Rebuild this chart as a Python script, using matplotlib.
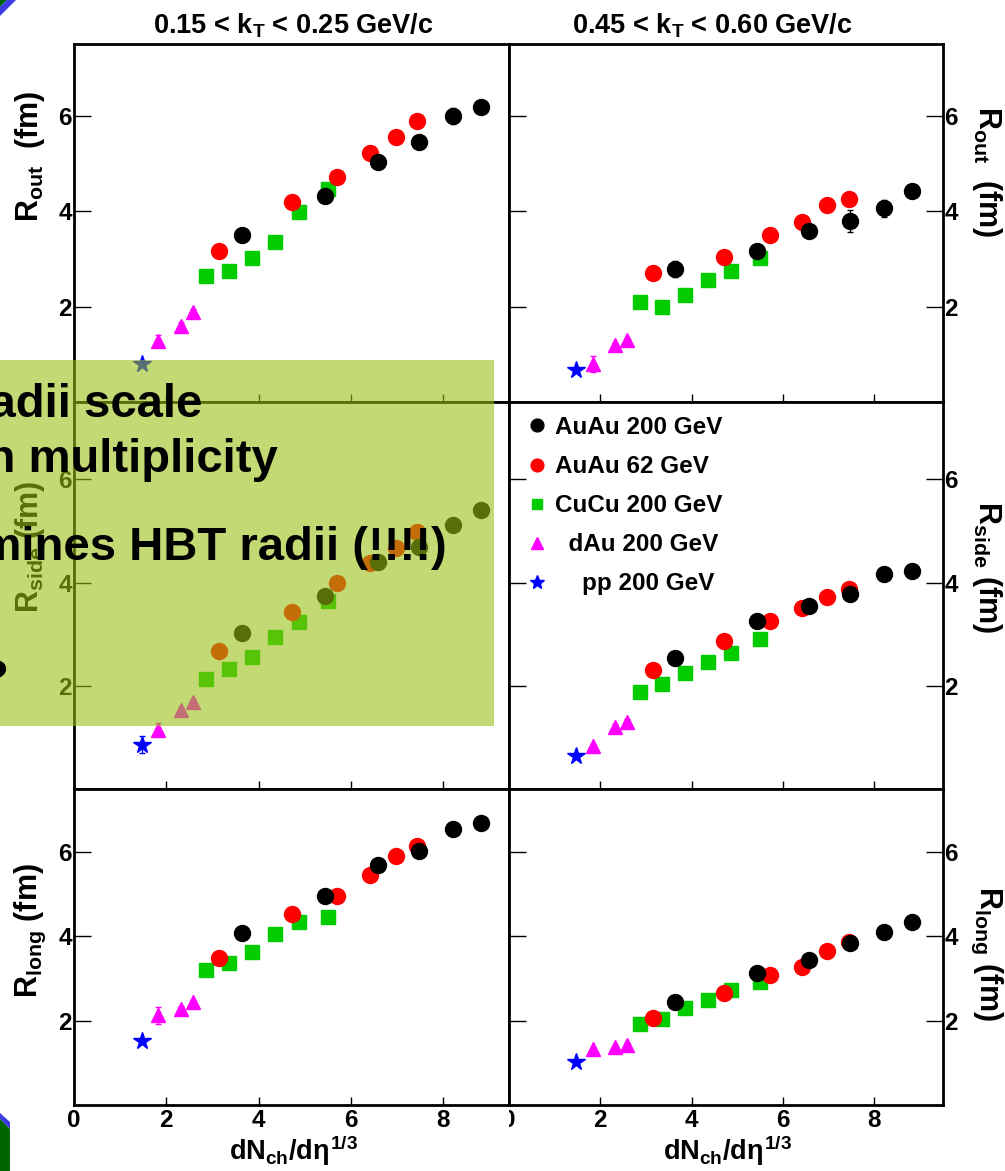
import matplotlib
matplotlib.use('Agg')
import matplotlib.pyplot as plt
from matplotlib.patches import Rectangle, Polygon
from matplotlib.lines import Line2D
from matplotlib.transforms import Bbox, TransformedBbox

W, H = 1005, 1171

# dN_ch/deta^(1/3) of each centrality bin
x_auau200 = [3.64, 5.44, 6.58, 7.48, 8.21, 8.82]
x_auau62 = [3.15, 4.72, 5.71, 6.42, 6.97, 7.44]
x_cucu200 = [2.86, 3.36, 3.86, 4.36, 4.87, 5.50]
x_dau200 = [1.83, 2.33, 2.58]
x_pp200 = [1.47]

systems = ['AuAu 200 GeV', 'AuAu 62 GeV', 'CuCu 200 GeV', 'dAu 200 GeV', 'pp 200 GeV']
legend_labels = ['AuAu 200 GeV', 'AuAu 62 GeV', 'CuCu 200 GeV', '  dAu 200 GeV', '    pp 200 GeV']

# radii (fm) per system
rout_k1 = {
    'AuAu 200 GeV': [3.49, 4.31, 5.03, 5.44, 5.99, 6.18],
    'AuAu 62 GeV': [3.17, 4.19, 4.72, 5.21, 5.56, 5.89],
    'CuCu 200 GeV': [2.65, 2.74, 3.02, 3.35, 3.97, 4.46],
    'dAu 200 GeV': [1.28, 1.60, 1.89],
    'pp 200 GeV': [0.80],
}
rout_k2 = {
    'AuAu 200 GeV': [2.78, 3.16, 3.58, 3.80, 4.06, 4.41],
    'AuAu 62 GeV': [2.70, 3.04, 3.49, 3.77, 4.12, 4.25],
    'CuCu 200 GeV': [2.10, 1.98, 2.24, 2.55, 2.74, 3.02],
    'dAu 200 GeV': [0.80, 1.19, 1.30],
    'pp 200 GeV': [0.68],
}
rside_k1 = {
    'AuAu 200 GeV': [3.02, 3.75, 4.40, 4.69, 5.11, 5.40],
    'AuAu 62 GeV': [2.67, 3.43, 3.99, 4.38, 4.67, 4.99],
    'CuCu 200 GeV': [2.14, 2.32, 2.56, 2.95, 3.24, 3.64],
    'dAu 200 GeV': [1.15, 1.54, 1.69],
    'pp 200 GeV': [0.86],
}
rside_k2 = {
    'AuAu 200 GeV': [2.53, 3.26, 3.55, 3.77, 4.17, 4.22],
    'AuAu 62 GeV': [2.31, 2.87, 3.26, 3.50, 3.72, 3.87],
    'CuCu 200 GeV': [1.88, 2.03, 2.24, 2.46, 2.64, 2.91],
    'dAu 200 GeV': [0.83, 1.21, 1.30],
    'pp 200 GeV': [0.64],
}
rlong_k1 = {
    'AuAu 200 GeV': [4.09, 4.95, 5.69, 6.04, 6.55, 6.69],
    'AuAu 62 GeV': [3.49, 4.53, 4.97, 5.46, 5.91, 6.14],
    'CuCu 200 GeV': [3.21, 3.38, 3.63, 4.06, 4.35, 4.46],
    'dAu 200 GeV': [2.13, 2.29, 2.45],
    'pp 200 GeV': [1.52],
}
rlong_k2 = {
    'AuAu 200 GeV': [2.45, 3.13, 3.45, 3.84, 4.11, 4.34],
    'AuAu 62 GeV': [2.06, 2.67, 3.08, 3.27, 3.66, 3.88],
    'CuCu 200 GeV': [1.92, 2.04, 2.31, 2.49, 2.74, 2.92],
    'dAu 200 GeV': [1.32, 1.38, 1.43],
    'pp 200 GeV': [1.02],
}

# the few error bars that stick out of the markers
err_big = {
    ('rout_k1', 'AuAu 200 GeV'): [0.06, 0.08, 0.06, 0.06, 0.16, 0.13],
    ('rout_k1', 'dAu 200 GeV'): [0.12, 0.08, 0.05],
    ('rout_k2', 'AuAu 200 GeV'): [0.17, 0.08, 0.06, 0.23, 0.18, 0.08],
    ('rout_k2', 'dAu 200 GeV'): [0.17, 0.05, 0.05],
    ('rside_k1', 'dAu 200 GeV'): [0.12, 0.05, 0.05],
    ('rside_k1', 'pp 200 GeV'): [0.17],
    ('rlong_k1', 'dAu 200 GeV'): [0.2, 0.05, 0.05],
}

x_by_system = dict(zip(systems, [x_auau200, x_auau62, x_cucu200, x_dau200, x_pp200]))
styles = {
    'AuAu 200 GeV': dict(marker='o', color='black', ms=11.5),
    'AuAu 62 GeV': dict(marker='o', color='#ff0000', ms=11.5),
    'CuCu 200 GeV': dict(marker='s', color='#00cc00', ms=9.5),
    'dAu 200 GeV': dict(marker='^', color='#ff00ff', ms=10),
    'pp 200 GeV': dict(marker='*', color='#0000ff', ms=13),
}
draw_order = ['CuCu 200 GeV', 'dAu 200 GeV', 'pp 200 GeV', 'AuAu 62 GeV', 'AuAu 200 GeV']

plt.rcParams['font.family'] = 'Liberation Sans'
plt.rcParams['font.weight'] = 'bold'
plt.rcParams['mathtext.fontset'] = 'custom'
plt.rcParams['mathtext.rm'] = 'Liberation Sans:bold'
plt.rcParams['mathtext.it'] = 'Liberation Sans:bold'
plt.rcParams['mathtext.bf'] = 'Liberation Sans:bold'


def fx(px):
    return px / W


def fy(py):
    return 1 - py / H


fig = plt.figure(figsize=(W / 100, H / 100), dpi=100)
fig.patch.set_facecolor('white')

col_edges = [74, 509, 943]
row_edges = [44, 402, 789, 1105]
xmax = [9.43, 9.51]

panels = [
    ('rout_k1', rout_k1, 0, 0), ('rout_k2', rout_k2, 0, 1),
    ('rside_k1', rside_k1, 1, 0), ('rside_k2', rside_k2, 1, 1),
    ('rlong_k1', rlong_k1, 2, 0), ('rlong_k2', rlong_k2, 2, 1),
]

axes = {}
for key, data, r, c in panels:
    x0, x1 = col_edges[c], col_edges[c + 1]
    y0, y1 = row_edges[r], row_edges[r + 1]
    ax = fig.add_axes([fx(x0), fy(y1), fx(x1) - fx(x0), (y1 - y0) / H])
    axes[(r, c)] = ax
    for name in draw_order:
        st = styles[name]
        ys = data[name]
        err = err_big.get((key, name), [0.05] * len(ys))
        ax.errorbar(x_by_system[name], ys, yerr=err, fmt=st['marker'],
                    color=st['color'], ms=st['ms'], mec=st['color'],
                    elinewidth=1, capsize=2.5, capthick=1, ls='none')
    ax.set_xlim(0, xmax[c])
    ax.set_ylim(0, 7.5)
    ax.set_xticks([0, 2, 4, 6, 8])
    ax.set_yticks([2, 4, 6])
    for sp in ax.spines.values():
        sp.set_linewidth(2)
    ax.tick_params(axis='x', direction='in', length=6, width=1, top=False,
                   bottom=True, labelbottom=(r == 2), labelsize=17.5, pad=3)
    if c == 0:
        ax.tick_params(axis='y', direction='in', length=12, width=1,
                       left=True, right=False, labelleft=True,
                       labelright=False, labelsize=17.5, pad=1.5)
    else:
        ax.tick_params(axis='y', direction='in', length=12, width=1,
                       left=True, right=True, labelleft=False,
                       labelright=True, labelsize=17.5, pad=1.0)

# half-hidden "0" under the shared edge of the bottom-right panel
lab0 = axes[(2, 1)].xaxis.get_major_ticks()[0].label1
lab0.set_clip_box(TransformedBbox(Bbox.from_extents(fx(509), 0, 1, 1), fig.transFigure))
lab0.set_clip_on(True)

# titles and axis labels
fig.text(fx(293), fy(26), r'0.15 < k$_{T}$ < 0.25 GeV/c', ha='center', va='center', fontsize=19.5)
fig.text(fx(712), fy(26), r'0.45 < k$_{T}$ < 0.60 GeV/c', ha='center', va='center', fontsize=19.5)

ylabels = [r'R$_{out}$  (fm)', r'R$_{side}$ (fm)', r'R$_{long}$ (fm)']
left_y = [156, 547, 931]
right_y = [172, 567, 953]
for lab, yl, yr in zip(ylabels, left_y, right_y):
    fig.text(fx(30), fy(yl), lab, rotation=90, ha='center', va='center', fontsize=22)
    fig.text(fx(987), fy(yr), lab, rotation=270, ha='center', va='center', fontsize=22)

xlab = r'dN$_{ch}$/d$\eta^{1/3}$'
fig.text(fx(293), fy(1151), xlab, ha='center', va='center', fontsize=19.5)
fig.text(fx(727), fy(1151), xlab, ha='center', va='center', fontsize=19.5)

# legend in the middle-right panel
handles = [Line2D([], [], ls='none', marker=styles[s]['marker'], color=styles[s]['color'],
                  ms=styles[s]['ms'] * 0.8) for s in systems]
axes[(1, 1)].legend(handles, legend_labels, loc='upper left', frameon=False,
                    bbox_to_anchor=(fx(537 - 9.6), fy(416)), bbox_transform=fig.transFigure,
                    fontsize=17.5, handlelength=0.8, handletextpad=0.33,
                    labelspacing=0.66, borderpad=0, borderaxespad=0)

# slide overlay box with text
fig.add_artist(Rectangle((0, fy(726)), fx(494), (726 - 360) / H, transform=fig.transFigure,
                         facecolor=(0.60, 0.75, 0.06), alpha=0.58, edgecolor='none', zorder=10))
overlay_lines = [
    ('HBT radii scale', 202, 417),
    ('with multiplicity', 278, 472),
    ('Multiplicity determines HBT radii (!!!!)', 447, 560),
    ('?', 9, 692),
]
for txt, xr, yb in overlay_lines:
    fig.text(fx(xr), fy(yb), txt, ha='right', va='baseline', fontsize=34,
             color='black', zorder=11)

# slide corner decorations
fig.add_artist(Polygon([(0, 1), (fx(7), 1), (0, fy(7))], closed=True, transform=fig.transFigure,
                       facecolor='#006400', edgecolor='none', zorder=12))
fig.add_artist(Polygon([(fx(7), 1), (fx(16), 1), (0, fy(16)), (0, fy(7))], closed=True,
                       transform=fig.transFigure, facecolor='#3c3ce6', edgecolor='none', zorder=12))
fig.add_artist(Polygon([(0, fy(1113)), (fx(10), fy(1122)), (fx(10), fy(1129)), (0, fy(1119))],
                       closed=True, transform=fig.transFigure, facecolor='#3c3ce6',
                       edgecolor='none', zorder=12))
fig.add_artist(Polygon([(0, fy(1119)), (fx(10), fy(1129)), (fx(10), 0), (0, 0)],
                       closed=True, transform=fig.transFigure, facecolor='#006400',
                       edgecolor='none', zorder=12))

fig.savefig('out.png', dpi=100)
plt.close(fig)
